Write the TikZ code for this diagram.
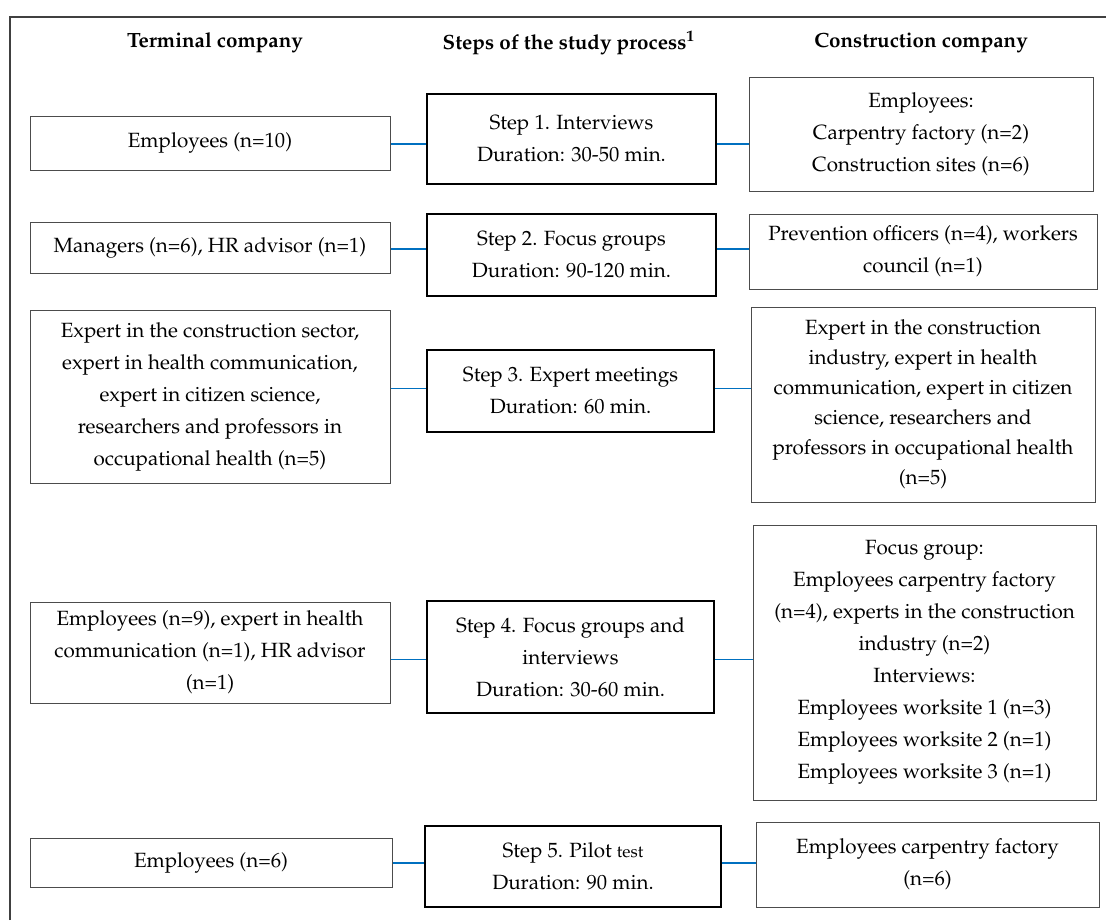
\documentclass[tikz,border=0pt]{standalone}
\usepackage[T1]{fontenc}
\usepackage{mathpazo}
\usetikzlibrary{positioning}
\definecolor{linkblue}{RGB}{0,112,192}
\tikzstyle{sideB} = [draw=black!70, line width=0.5pt, align=center, inner sep=0pt, fill=white, font=\fontsize{10.3}{16}\selectfont]
\tikzstyle{stepB} = [sideB, draw=black, line width=1.2pt]
\tikzstyle{head} = [font=\fontsize{10.3}{16}\selectfont\bfseries]
\tikzstyle{link} = [draw=linkblue, line width=0.7pt]

\begin{document}
\begin{tikzpicture}[x=0.5pt, y=-0.5pt, wh/.style 2 args={minimum width=#1*0.5pt, minimum height=#2*0.5pt}]
\useasboundingbox (0,0) rectangle (1106,920);
% frame
\draw[black!75, line width=0.8pt] (10,920) -- (10,17) -- (1106,17);

% Headers
\node[head] (hT) at (215,43) {Terminal company};
\node[head] (hS) at (569,43) {Steps of the study process\textsuperscript{1}};
\node[head] (hC) at (921,43) {Construction company};

% Terminal company
\node[sideB, wh={360}{54}]  (t1) at (210,143)   {Employees (n=10)};
\node[sideB, wh={360}{51}]  (t2) at (210,247.5) {Managers (n=6), HR advisor (n=1)};
\node[sideB, wh={360}{173}] (t3) at (210,396.5) {Expert in the construction sector,\\ expert in health communication,\\ expert in citizen science,\\ researchers and professors in\\ occupational health (n=5)};
\node[sideB, wh={360}{101}] (t4) at (210,652.5) {Employees (n=9), expert in health\\ communication (n=1), HR advisor\\ (n=1)};
\node[sideB, wh={362}{49}]  (t5) at (211,862.5) {Employees (n=6)};

% Steps
\node[stepB, wh={289}{90}]  (s1) at (571.5,139) {Step 1. Interviews\\ Duration: 30-50 min.};
\node[stepB, wh={289}{82}]  (s2) at (571.5,255) {Step 2. Focus groups\\ Duration: 90-120 min.};
\node[stepB, wh={287}{82}]  (s3) at (570.5,391) {Step 3. Expert meetings\\ Duration: 60 min.};
\node[stepB, wh={287}{112}] (s4) at (570.5,657) {Step 4. Focus groups and\\ interviews\\ Duration: 30-60 min.};
\node[stepB, wh={296}{81}]  (s5) at (573,866.5) {Step 5. Pilot {\fontsize{8.5}{16}\selectfont test}\\ Duration: 90 min.};

% Construction company
\node[sideB, wh={344}{113}] (c1) at (921,134.5)   {Employees:\\ Carpentry factory (n=2)\\ Construction sites (n=6)};
\node[sideB, wh={348}{75}]  (c2) at (923,251.5)   {Prevention officers (n=4), workers\\ council (n=1)};
\node[sideB, wh={344}{195}, font=\fontsize{10.3}{15}\selectfont] (c3) at (923,404.5) {Expert in the construction\\ industry, expert in health\\ communication, expert in citizen\\ science, researchers and\\ professors in occupational health\\ (n=5)};
\node[sideB, wh={343}{275}] (c4) at (924.5,662.5) {Focus group:\\ Employees carpentry factory\\ (n=4), experts in the construction\\ industry (n=2)\\ Interviews:\\ Employees worksite 1 (n=3)\\ Employees worksite 2 (n=1)\\ Employees worksite 3 (n=1)};
\node[sideB, wh={343}{85}]  (c5) at (927.5,864.5) {Employees carpentry factory\\ (n=6)};

% Edges
\coordinate (k1) at (0,144);
\coordinate (k2) at (0,249);
\coordinate (k3) at (0,388.5);
\coordinate (k4) at (0,659.5);
\coordinate (k5) at (0,863);
\draw[link] (t1.east |- k1) -- (s1.west |- k1);
\draw[link] (s1.east |- k1) -- (c1.west |- k1);
\draw[link] (t2.east |- k2) -- (s2.west |- k2);
\draw[link] (s2.east |- k2) -- (c2.west |- k2);
\draw[link] (t3.east |- k3) -- (s3.west |- k3);
\draw[link] (s3.east |- k3) -- (c3.west |- k3);
\draw[link] (t4.east |- k4) -- (s4.west |- k4);
\draw[link] (s4.east |- k4) -- (c4.west |- k4);
\draw[link] (t5.east |- k5) -- (s5.west |- k5);
\draw[link] (s5.east |- k5) -- (c5.west |- k5);
\end{tikzpicture}
\end{document}
